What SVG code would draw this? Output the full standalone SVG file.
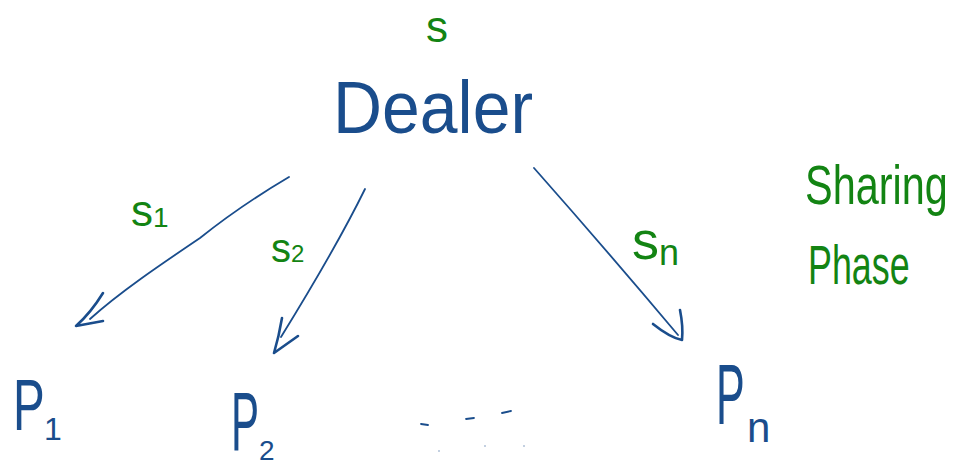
<svg xmlns="http://www.w3.org/2000/svg" width="977" height="466" viewBox="0 0 977 466">
<style>
.b{fill:#1a4d8c;font-family:"Liberation Sans",Arial,sans-serif}
.g{fill:#138413;font-family:"Liberation Sans",Arial,sans-serif}
.c{fill:none;stroke:#1a4d8c;stroke-width:1.8;stroke-linecap:round;stroke-linejoin:round}
.h{fill:none;stroke:#1a4d8c;stroke-width:2.6;stroke-linecap:round;stroke-linejoin:round}
</style>
<rect width="977" height="466" fill="#fff"/>
<g id="secret"><text class="g" x="437" y="42" font-size="44" text-anchor="middle">s</text></g>
<g id="dealer"><text class="b" x="333" y="133" font-size="74" textLength="200" lengthAdjust="spacingAndGlyphs">Dealer</text></g>
<g id="connectors">
<path class="c" d="M289,177 C250,200 220,222 200,238 C160,265 120,292 90,319"/>
<path class="h" d="M103,293 C95,306 85,318 76,326 L103,321"/>
<path class="c" d="M365,189 C340,240 310,290 281,337"/>
<path class="h" d="M282,318 C280,330 277,343 274,353 L298,336"/>
<path class="c" d="M534,168 C580,220 630,278 678,335"/>
<path class="h" d="M653,324 C663,332 672,338 682,340 C683,330 682,320 680,310"/>
</g>
<g id="label-s1"><text class="g" x="131" y="226" font-size="44">s<tspan font-size="28" dy="1">1</tspan></text></g>
<g id="label-s2"><text class="g" x="271" y="262" font-size="40">s<tspan font-size="24">2</tspan></text></g>
<g id="label-sn"><text class="g" x="632" y="259" font-size="54">s<tspan font-size="36" dy="6">n</tspan></text></g>
<g id="phase">
<text class="g" transform="translate(805,204) scale(0.74,1)" font-size="56">Sharing</text>
<text class="g" transform="translate(808,284) scale(0.64,1)" font-size="56">Phase</text>
</g>
<g id="p1">
<text class="b" transform="translate(13,430) scale(0.66,1)" font-size="72">P</text>
<text class="b" x="44" y="440" font-size="32">1</text>
</g>
<g id="p2">
<text class="b" transform="translate(231,450) scale(0.5,1)" font-size="84">P</text>
<text class="b" x="259" y="460" font-size="28">2</text>
</g>
<g id="dots">
<path class="c" d="M421,424 L428,425 M466,419 L474,418 M502,413 L511,411"/>
<circle cx="439" cy="451" r="0.8" fill="#1a4d8c" opacity="0.6"/>
<circle cx="485" cy="446" r="0.8" fill="#1a4d8c" opacity="0.6"/>
<circle cx="524" cy="446" r="0.8" fill="#1a4d8c" opacity="0.6"/>
</g>
<g id="pn">
<text class="b" transform="translate(716,424) scale(0.5,1)" font-size="86">P</text>
<text class="b" x="747" y="442" font-size="42">n</text>
</g>
</svg>
